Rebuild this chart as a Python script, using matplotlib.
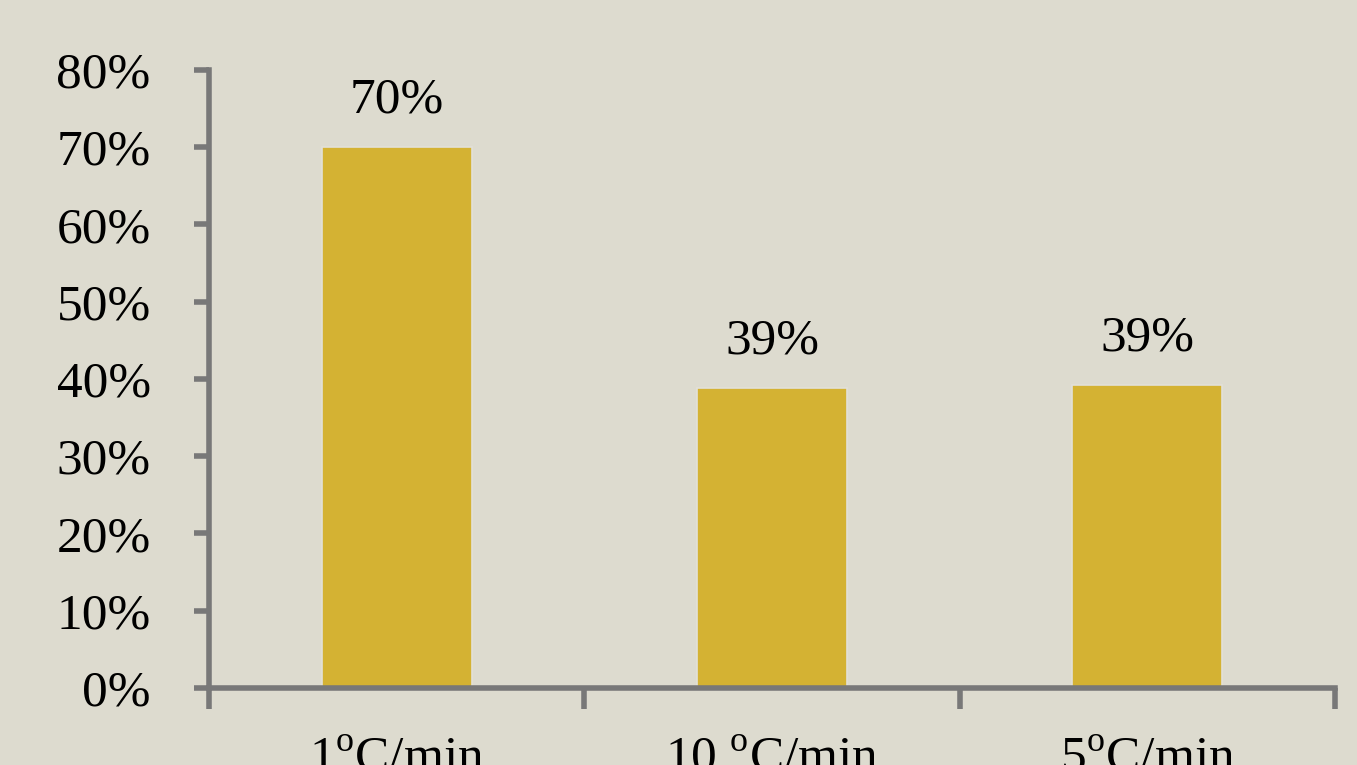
import matplotlib
matplotlib.use('Agg')
import matplotlib.pyplot as plt
from matplotlib.ticker import PercentFormatter

plt.rcParams['font.family'] = ['Liberation Serif', 'DejaVu Serif']
plt.rcParams['mathtext.fontset'] = 'custom'
plt.rcParams['mathtext.rm'] = 'Liberation Serif'

# Dane
categories = [r'1$^{\mathrm{o}}$C/min', r'10 $^{\mathrm{o}}$C/min', r'5$^{\mathrm{o}}$C/min']
values = [0.70, 0.388, 0.392]
value_labels = ['70%', '39%', '39%']

bg = '#dddbcf'
bar_color = '#d4b233'
axis_color = '#787878'

fig = plt.figure(figsize=(13.57, 7.65), dpi=100, facecolor=bg)
ax = fig.add_axes([0.154, 0.1007, 0.8298, 0.8078], facecolor=bg)

x = range(len(categories))
bars = ax.bar(x, values, width=0.4, color=bar_color, edgecolor='#e2e0d8', linewidth=1.2, zorder=2)

for b, lab in zip(bars, value_labels):
    ax.annotate(lab, (b.get_x() + b.get_width() / 2, b.get_height()),
                xytext=(0, 17), textcoords='offset points',
                ha='center', va='bottom', fontsize=37)

ax.set_xlim(-0.5, 2.5)
ax.set_ylim(0, 0.8)
ax.set_yticks([i / 10 for i in range(9)])
ax.yaxis.set_major_formatter(PercentFormatter(1.0, decimals=0))

# etykiety kategorii na środku, kreski na granicach
ax.set_xticks([0.5 + i for i in range(-1, 3)], minor=False)
ax.set_xticklabels([])
ax.set_xticks(list(x), minor=True)
ax.set_xticklabels(categories, minor=True)
ax.tick_params(axis='x', which='major', direction='out', length=15, width=4, color=axis_color)
ax.tick_params(axis='x', which='minor', length=0, pad=35, labelsize=37)
ax.tick_params(axis='y', direction='out', length=11, width=4, color=axis_color, labelsize=37, pad=31)

for side in ['top', 'right']:
    ax.spines[side].set_visible(False)
for side in ['left', 'bottom']:
    ax.spines[side].set_color(axis_color)
    ax.spines[side].set_linewidth(4)

fig.savefig('out.png', dpi=100, facecolor=bg)
